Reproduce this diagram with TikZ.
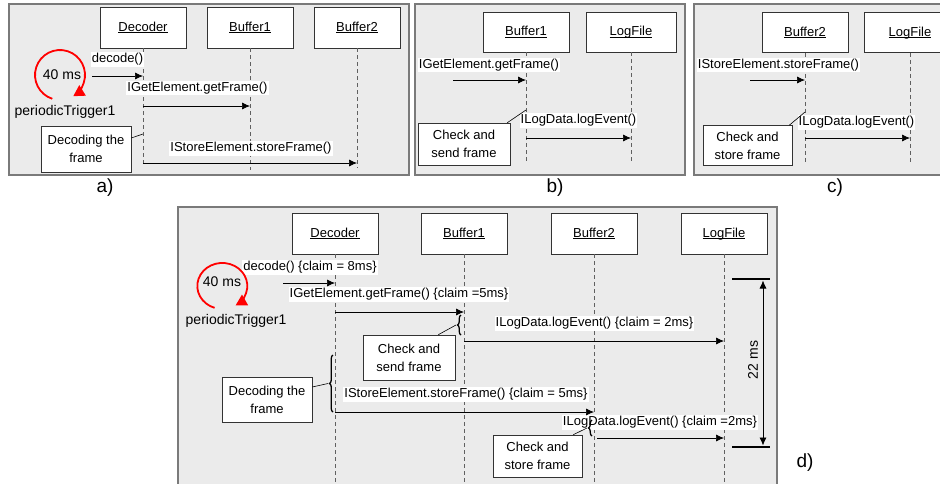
\documentclass[tikz,border=0pt]{standalone}
\usepackage{fontspec}
\setmainfont{Liberation Sans}
\usetikzlibrary{arrows.meta,decorations.pathreplacing}
\definecolor{panelgray}{HTML}{EBEBEB}
\definecolor{framegray}{HTML}{7A7A7A}
\definecolor{lifegray}{HTML}{606060}
\newcommand\objname[1]{\underline{\raisebox{0pt}[\height][0pt]{#1}}}
\begin{document}
\begin{tikzpicture}[x=1pt,y=-1pt,
  panel/.style={fill=panelgray,draw=framegray,line width=1.2pt},
  obj/.style={draw=black!80,fill=white,line width=0.6pt,minimum width=86pt,minimum height=40pt,inner sep=0pt,font=\fontsize{13}{15}\selectfont},
  note/.style={draw=black!80,fill=white,line width=0.6pt,inner sep=0pt,align=center,font=\fontsize{13}{18}\selectfont},
  lbl/.style={fill=white,inner sep=1pt,font=\fontsize{13}{15}\selectfont},
  life/.style={draw=lifegray,line width=0.6pt,dash pattern=on 4pt off 3pt},
  msg/.style={line width=0.7pt,-{Latex[length=8pt,width=7pt]}},
  brc/.style={decorate,decoration={brace,amplitude=3.5pt},line width=1.3pt},
  link/.style={line width=0.6pt},
  trig/.style={draw=red,line width=1.8pt,-{Triangle[length=11pt,width=12pt]}},
  big/.style={font=\fontsize{14}{16}\selectfont},
  capt/.style={font=\fontsize{19}{21}\selectfont},
  dimline/.style={line width=2.5pt}
]
\useasboundingbox (0,0) rectangle (940,483);
\begin{scope}
\clip (0,0) rectangle (940,483);
% ================= panel a =================
\draw[panel] (9,4) rectangle (409,175);
\node[obj,minimum height=41pt] (aDec) at (143,27.5) {\objname{Decoder}};
\node[obj,minimum height=41pt] (aBa) at (250,27.5) {\objname{Buffer1}};
\node[obj,minimum height=41pt] (aBb) at (357,27.5) {\objname{Buffer2}};
\coordinate (aDecE) at (143,166);
\coordinate (aBaE) at (250,170);
\coordinate (aBbE) at (357,168);
\draw[life] (aDec.south) -- (aDecE);
\draw[life] (aBa.south) -- (aBaE);
\draw[life] (aBb.south) -- (aBbE);
\node[lbl] (aL1) at (117.5,59.5) {decode()};
\node[lbl] (aL2) at (197.5,88) {IGetElement.getFrame()};
\node[lbl] (aL3) at (251,148.5) {IStoreElement.storeFrame()};
\coordinate (aS1) at (92,76);
\draw[msg] (aS1) -- (aDec |- aS1);
\coordinate (aY2) at (0,106);
\draw[msg] (aDec |- aY2) -- (aBa |- aY2);
\coordinate (aY3) at (0,163);
\draw[msg] (aDec |- aY3) -- (aBb |- aY3);
\node[note,minimum width=90pt,minimum height=46pt] (aN1) at (86,149) {Decoding the\\frame};
\coordinate (aN1c) at (143,134);
\draw[link] (aN1.east |- 0,138) -- (aN1c);
\coordinate (aTc) at (60,75);
\draw[trig] (aTc) ++(108:25) arc[start angle=108,end angle=418,radius=25];
\node[big] (aT) at (62,75) {40 ms};
\node[big] (aP) at (65,112) {periodicTrigger1};
\node[capt] (aCap) at (105,188) {a)};
% ================= panel b =================
\draw[panel] (415,4) rectangle (685,175);
\node[obj] (bBa) at (526,32) {\objname{Buffer1}};
\node[obj,minimum width=90pt] (bLog) at (631,32) {\objname{LogFile}};
\coordinate (bBaE) at (526,162);
\coordinate (bLogE) at (631,162);
\draw[life] (bBa.south) -- (bBaE);
\draw[life] (bLog.south) -- (bLogE);
\node[lbl] (bL1) at (489,65) {IGetElement.getFrame()};
\node[lbl] (bL2) at (578.5,120.5) {ILogData.logEvent()};
\coordinate (bS1) at (453,80);
\draw[msg] (bS1) -- (bBa |- bS1);
\coordinate (bY2) at (0,138);
\draw[msg] (bBa |- bY2) -- (bLog |- bY2);
\node[note,minimum width=92pt,minimum height=42pt] (bN1) at (464,144) {Check and\\send frame};
\coordinate (bN1c) at (526,110);
\draw[link] (bN1.north east) ++(-3,0) -- (bN1c);
\node[capt] (bCap) at (555,188) {b)};
% ================= panel c =================
\draw[panel] (694,4) rectangle (950,175);
\node[obj] (cBb) at (805,32.5) {\objname{Buffer2}};
\node[obj,minimum width=92pt] (cLog) at (910,32.5) {\objname{LogFile}};
\coordinate (cBbE) at (805,162);
\coordinate (cLogE) at (910,162);
\draw[life] (cBb.south) -- (cBbE);
\draw[life] (cLog.south) -- (cLogE);
\node[lbl] (cL1) at (778.5,65) {IStoreElement.storeFrame()};
\node[lbl] (cL2) at (856.5,122.5) {ILogData.logEvent()};
\coordinate (cS1) at (750,80);
\draw[msg] (cS1) -- (cBb |- cS1);
\coordinate (cY2) at (0,138);
\draw[msg] (cBb |- cY2) -- (cLog |- cY2);
\node[note,minimum width=89pt,minimum height=40pt] (cN1) at (747.5,145.5) {Check and\\store frame};
\coordinate (cN1c) at (805,112);
\draw[link] (cN1.north east) ++(-3,0) -- (cN1c);
\node[capt] (cCap) at (835,188) {c)};
% ================= panel d =================
\draw[panel] (178,207) rectangle (777,495);
\node[obj,minimum height=41pt] (dDec) at (335,233.5) {\objname{Decoder}};
\node[obj,minimum height=41pt] (dBa) at (464,233.5) {\objname{Buffer1}};
\node[obj,minimum height=41pt] (dBb) at (594,233.5) {\objname{Buffer2}};
\node[obj,minimum height=41pt] (dLog) at (724,233.5) {\objname{LogFile}};
\coordinate (dDecE) at (335,485);
\coordinate (dBaE) at (464,485);
\coordinate (dBbE) at (594,485);
\coordinate (dLogE) at (724,485);
\draw[life] (dDec.south) -- (dDecE);
\draw[life] (dBa.south) -- (dBaE);
\draw[life] (dBb.south) -- (dBbE);
\draw[life] (dLog.south) -- (dLogE);
\node[lbl] (dL1) at (310,267.5) {decode() \{claim = 8ms\}};
\node[lbl] (dL2) at (399,294.5) {IGetElement.getFrame() \{claim =5ms\}};
\node[lbl] (dL3) at (594.5,323.5) {ILogData.logEvent() \{claim = 2ms\}};
\node[lbl] (dL4) at (466,394.5) {IStoreElement.storeFrame() \{claim = 5ms\}};
\node[lbl] (dL5) at (660,422.5) {ILogData.logEvent() \{claim =2ms\}};
\coordinate (dS1) at (283,283);
\draw[msg] (dS1) -- (dDec |- dS1);
\coordinate (dY2) at (0,312);
\draw[msg] (dDec |- dY2) -- (dBa |- dY2);
\coordinate (dY3) at (0,341);
\draw[msg] (dBa |- dY3) -- (dLog |- dY3);
\coordinate (dY4) at (0,412);
\draw[msg] (dDec |- dY4) -- (dBb |- dY4);
\coordinate (dS5) at (597,438);
\draw[msg] (dS5) -- (dLog |- dS5);
% notes and braces
\node[note,minimum width=92pt,minimum height=45pt] (dN1) at (409,357.5) {Check and\\send frame};
\draw[brc] (461,335) -- (461,315) coordinate[midway,xshift=-5pt] (dB1);
\draw[link] (dN1.north east) ++(-17,0) -- (dB1);
\node[note,minimum width=90pt,minimum height=45pt] (dN2) at (267,399.5) {Decoding the\\frame};
\draw[brc] (333,412) -- (333,355) coordinate[midway,xshift=-5pt] (dB2);
\draw[link] (dN2.east |- 0,387) -- (dB2);
\node[note,minimum width=89pt,minimum height=42pt] (dN3) at (537.5,456) {Check and\\store frame};
\draw[brc] (592,436) -- (592,420) coordinate[midway,xshift=-5pt] (dB3);
\draw[link] (dN3.north east) ++(-9,0) -- (dB3);
% trigger
\coordinate (dTc) at (222,285);
\draw[trig] (dTc) ++(108:24) arc[start angle=108,end angle=418,x radius=25,y radius=23];
\node[big] (dT) at (222,282) {40 ms};
\node[big] (dP) at (236,321) {periodicTrigger1};
% 22 ms dimension
\coordinate (dTopL) at (732,279);
\coordinate (dTopR) at (770,279);
\coordinate (dBotL) at (732,447);
\coordinate (dBotR) at (770,447);
\draw[dimline] (dTopL) -- (dTopR);
\draw[dimline] (dBotL) -- (dBotR);
\coordinate (dArT) at (763,280.5);
\coordinate (dArB) at (763,445.5);
\draw[line width=0.8pt,{Latex[length=8pt,width=7pt]}-{Latex[length=8pt,width=7pt]}] (dArT) -- (dArB);
\node[big,rotate=90] (dDim) at (753,360) {22 ms};
\node[capt] (dCap) at (805,463) {d)};
\end{scope}
\end{tikzpicture}
\end{document}
